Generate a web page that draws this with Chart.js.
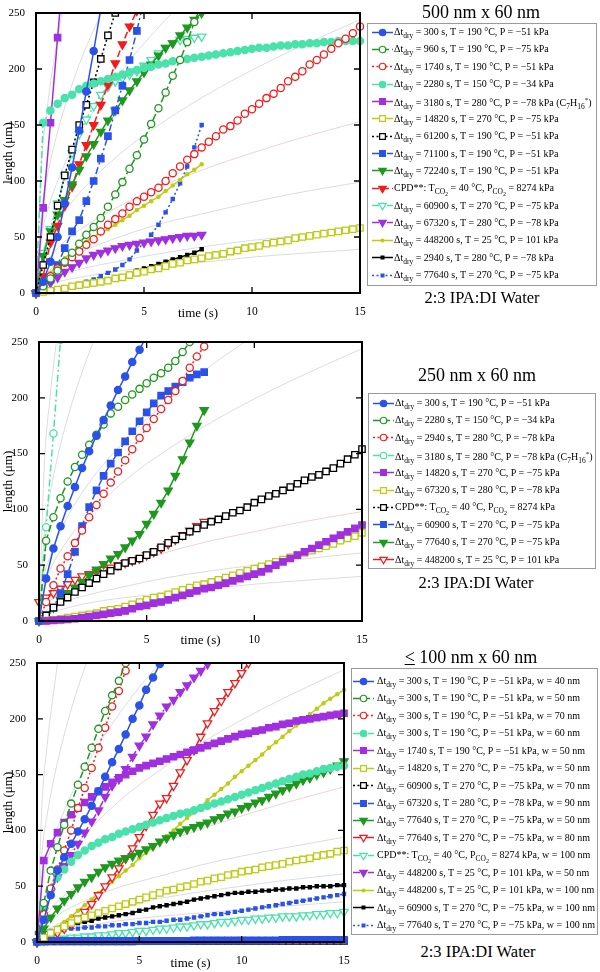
<!DOCTYPE html>
<html>
<head>
<meta charset="utf-8">
<script src="https://cdn.jsdelivr.net/npm/chart.js@4.4.1/dist/chart.umd.min.js"></script>
<style>
  html, body { margin: 0; padding: 0; background: #fff; }
  body { position: relative; width: 600px; height: 972px; overflow: hidden;
         font-family: 'Liberation Serif', 'Times New Roman', serif; color: #000; }
  canvas.plot { position: absolute; left: 0; }
  .head { position: absolute; width: 240px; text-align: center; white-space: nowrap; line-height: 20px; }
  .legend { position: absolute; border: 1px solid #9a9a9a; background: #fff; box-sizing: border-box; }
  .legend .row { position: absolute; height: 17px; line-height: 17px; white-space: nowrap; font-size: 10px; }
  .legend canvas { position: absolute; }
  sub { font-size: 7.5px; vertical-align: -3px; line-height: 0; }
  sub sub { font-size: 6px; vertical-align: -2px; }
</style>
</head>
<body>
<script>
// frame times (s), shared by all measured series
const time = [0, 0.33, 0.67, 1, 1.33, 1.67, 2, 2.33, 2.67, 3, 3.33, 3.67, 4, 4.33, 4.67, 5, 5.33, 5.67, 6, 6.33,
  6.67, 7, 7.33, 7.67, 8, 8.33, 8.67, 9, 9.33, 9.67, 10, 10.33, 10.67, 11, 11.33, 11.67, 12, 12.33, 12.67, 13,
  13.33, 13.67, 14, 14.33, 14.67, 15];
// times for the faint guide curves
const guideTime = [0, 0.25, 0.5, 1, 2, 4, 6, 8, 10, 12, 15];

// ─── Panel 1: 500 nm x 60 nm ────────────────────────────────────────────────
const p1_300 = [0, 10, 28, 50, 80, 112, 145, 180, 216, 254];
const p1_960 = [0, 6, 13, 20, 28, 36, 44, 52, 59, 67, 77, 88, 99, 111, 123, 137, 151, 165, 179, 194, 208, 224, 242, 258];
const p1_1740 = [0, 8, 15, 22, 27, 32, 37, 43, 48, 55, 61, 66, 71, 77, 82, 86, 90, 94, 100, 107,
  113, 119, 124, 130, 135, 140, 146, 149, 154, 160, 164, 169, 174, 178, 183, 189, 193, 198, 204, 208,
  213, 218, 223, 227, 232, 238];
const p1_2280 = [0, 152, 163, 169, 174, 177, 182, 185, 187, 189, 191, 193, 195, 197, 199, 201, 202, 204, 205, 207,
  208, 209, 210, 211, 212, 213, 214, 215, 216, 217, 218, 219, 219, 220, 221, 221, 222, 222, 223, 223,
  224, 224, 225, 225, 225, 225];
const p1_3180 = [0, 76, 152, 228, 304];
const p1_14820 = [0, 1, 2, 3, 4, 6, 7, 8, 9, 10, 11, 13, 14, 16, 18, 19, 21, 22, 24, 26,
  27, 29, 30, 31, 33, 34, 35, 37, 38, 40, 41, 42, 44, 45, 46, 47, 49, 50, 51, 52,
  53, 54, 55, 56, 57, 58];
const p1_61200 = [0, 25, 50, 78, 105, 128, 150, 168, 188, 209, 230, 250];
const p1_71100 = [0, 5, 12, 25, 40, 55, 65, 82, 100, 120, 140, 163, 185, 208, 234, 262];
const p1_72240 = [0, 33, 55, 70, 83, 97, 110, 122, 133, 144, 154, 163, 172, 181, 189, 197, 204, 212, 219, 223, 230, 237, 244, 250];
const p1_cpd = [0, 15, 45, 60, 78, 95, 115, 132, 150, 168, 186, 205, 222, 238, 252];
const p1_60900 = [0, 36, 57, 80, 105, 125, 142, 155, 167, 177, 184, 189, 192, 195, 198, 203, 208, 214, 219, 223, 226, 227, 228, 229];
const p1_67320 = [0, 4, 9, 14, 19, 23, 27, 31, 34, 36, 38, 40, 42, 43, 44, 45, 46, 47, 48, 49, 50, 51, 51, 52];
const p1_448200 = [0, 10, 18, 25, 31, 37, 42, 46, 50, 54, 57, 61, 65, 69, 74, 78, 82, 86, 91, 96, 101, 106, 110, 115];
const p1_2940 = [0, 1, 2, 3, 4, 5, 6, 7, 8, 10, 11, 13, 15, 17, 20, 22, 24, 26, 28, 30, 32, 34, 36, 39];
const p1_77640 = [0, 1, 2, 3, 4, 6, 8, 10, 12, 15, 18, 21, 25, 30, 38, 45, 52, 61, 72, 84, 98, 113, 130, 150];
const p1_guides = [
  [0, 114, 162, 228, 323],
  [0, 72, 102, 144, 204, 288],
  [0, 50, 71, 100, 141, 199, 244, 282],
  [0, 31, 45, 63, 89, 126, 154, 178, 199, 218, 244],
  [0, 20, 28, 40, 56, 79, 97, 112, 125, 137, 153],
  [0, 13, 18, 26, 36, 51, 63, 72, 81, 89, 99],
  [0, 7, 10, 15, 21, 29, 36, 42, 47, 51, 57],
  [0, 5, 7, 10, 14, 20, 25, 28, 32, 35, 39]
];
const DT = 'Δt<sub>dry</sub> = ';
const CPD = 'CPD**: T<sub>CO<sub>2</sub></sub> = 40 °C, P<sub>CO<sub>2</sub></sub> = 8274 kPa';
const p1_labels = [
  DT + '300 s, T = 190 °C, P = −51 kPa',
  DT + '960 s, T = 190 °C, P = −75 kPa',
  DT + '1740 s, T = 190 °C, P = −51 kPa',
  DT + '2280 s, T = 150 °C, P = −34 kPa',
  DT + '3180 s, T = 280 °C, P = −78 kPa (C<sub>7</sub>H<sub>16</sub><sup style="font-size:7px">*</sup>)',
  DT + '14820 s, T = 270 °C, P = −75 kPa',
  DT + '61200 s, T = 190 °C, P = −51 kPa',
  DT + '71100 s, T = 190 °C, P = −51 kPa',
  DT + '72240 s, T = 190 °C, P = −51 kPa',
  CPD,
  DT + '60900 s, T = 270 °C, P = −75 kPa',
  DT + '67320 s, T = 280 °C, P = −78 kPa',
  DT + '448200 s, T = 25 °C, P = 101 kPa',
  DT + '2940 s, T = 280 °C, P = −78 kPa',
  DT + '77640 s, T = 270 °C, P = −75 kPa'
];

// ─── Panel 2: 250 nm x 60 nm ────────────────────────────────────────────────
const p2_300 = [0, 38, 65, 85, 103, 120, 137, 152, 166, 180, 193, 207, 219, 232, 243, 256];
const p2_2280 = [0, 72, 93, 110, 125, 138, 149, 158, 167, 176, 186, 192, 198, 203, 208, 213, 218, 222, 227, 233, 241, 250];
const p2_2940 = [0, 17, 32, 47, 58, 70, 81, 93, 104, 114, 124, 134, 144, 154, 164, 173, 181, 190, 198, 206, 215, 227, 237, 246, 255];
const p2_3180 = [0, 84, 168, 252];
const p2_14820 = [0, 0, 0.5, 1, 1.5, 2, 3, 4, 5, 6, 7, 8, 9, 11, 13, 14, 16, 17, 19, 21,
  23, 25, 27, 29, 30, 32, 34, 36, 38, 40, 42, 44, 47, 50, 53, 56, 59, 62, 65, 68,
  71, 74, 77, 80, 83, 86];
const p2_67320 = [0, 0.5, 1, 2, 3, 4, 5, 6, 7, 9, 10, 11, 13, 15, 17, 19, 21, 22, 24, 26,
  28, 30, 32, 33, 35, 37, 39, 41, 43, 45, 47, 49, 51, 53, 55, 57, 59, 61, 63, 65,
  67, 69, 72, 74, 76, 79];
const p2_cpd = [0, 5, 12, 17, 21, 26, 30, 34, 38, 42, 45, 49, 52, 54, 56, 59, 62, 66, 70, 73,
  76, 80, 83, 86, 89, 91, 94, 97, 99, 102, 106, 109, 112, 114, 117, 120, 123, 126, 129, 131,
  134, 137, 141, 145, 149, 154];
const p2_60900 = [0, 5, 12, 25, 42, 62, 85, 102, 117, 130, 141, 151, 161, 170, 179, 187, 195, 202, 206, 210, 214, 218, 221, 223];
const p2_77640 = [0, 5, 12, 19, 25, 30, 35, 41, 46, 51, 56, 60, 66, 72, 78, 87, 96, 106, 117, 130, 145, 160, 175, 189];
const p2_448200 = [17, 21, 25, 29, 33, 37, 40, 42, 44, 46, 48, 50, 52, 54, 56, 59, 62, 65, 69, 73, 77, 81, 85, 89];
const p2_guides = [
  [0, 140, 198, 280],
  [0, 79, 112, 158, 223, 316],
  [0, 41, 57, 81, 115, 162, 198, 229, 256],
  [0, 31, 45, 63, 89, 126, 154, 178, 199, 218, 244],
  [0, 13, 18, 25, 36, 51, 62, 72, 80, 88, 98],
  [0, 8, 11, 16, 22, 31, 39, 45, 50, 55, 61],
  [0, 5, 7, 10, 15, 21, 25, 29, 33, 36, 40]
];
const p2_labels = [
  DT + '300 s, T = 190 °C, P = −51 kPa',
  DT + '2280 s, T = 150 °C, P = −34 kPa',
  DT + '2940 s, T = 280 °C, P = −78 kPa',
  DT + '3180 s, T = 280 °C, P = −78 kPa (C<sub>7</sub>H<sub>16</sub><sup style="font-size:7px">*</sup>)',
  DT + '14820 s, T = 270 °C, P = −75 kPa',
  DT + '67320 s, T = 280 °C, P = −78 kPa',
  CPD,
  DT + '60900 s, T = 270 °C, P = −75 kPa',
  DT + '77640 s, T = 270 °C, P = −75 kPa',
  DT + '448200 s, T = 25 °C, P = 101 kPa'
];

// ─── Panel 3: <= 100 nm x 60 nm ─────────────────────────────────────────────
const p3_w40 = [0, 20, 42, 64, 76, 88, 99, 110, 122, 135, 148, 161, 173, 186, 200, 212, 226, 237, 249, 260];
const p3_w50 = [0, 35, 64, 85, 105, 124, 141, 157, 174, 191, 207, 221, 234, 250];
const p3_w70 = [0, 25, 48, 65, 82, 100, 120, 138, 156, 174, 192, 211, 225, 243, 258];
const p3_w60 = [0, 30, 47, 58, 65, 72, 78, 82, 86, 89, 92, 94, 97, 99, 101, 103, 105, 107, 109, 111,
  113, 115, 116, 118, 120, 122, 124, 126, 128, 130, 132, 134, 136, 138, 140, 142, 144, 146, 148, 150,
  151, 153, 155, 156, 157, 158];
const p3_1740 = [0, 73, 88, 98, 107, 114, 120, 125, 130, 135, 139, 143, 147, 150, 153, 156, 158, 160, 162, 164,
  166, 168, 170, 172, 174, 176, 178, 180, 182, 184, 186, 187, 189, 190, 192, 193, 195, 196, 198, 199,
  200, 201, 202, 203, 204, 205];
const p3_14820 = [0, 4, 8, 11, 14, 17, 20, 22, 24, 26, 28, 30, 32, 34, 36, 38, 40, 42, 44, 46,
  47, 49, 50, 52, 54, 55, 57, 58, 60, 61, 63, 64, 65, 67, 68, 69, 70, 72, 73, 74,
  75, 77, 78, 79, 81, 82];
const p3_60900w70 = [0, 0.5, 0.5, 0.5, 0.5, 0.5, 0.5, 0.5, 0.5, 0.5, 0.5, 0.5, 0.5, 0.5, 0.5, 1, 1, 1, 1, 1,
  1, 1, 1, 1, 1, 1, 1, 1, 1, 1, 1, 1, 1, 1, 1, 1, 1, 1, 1, 1,
  1, 1, 1, 1, 1, 1];
const p3_67320 = [0, 0.5, 1, 1, 1, 1, 1, 1, 1, 1, 1, 1, 1, 1, 1, 1, 1, 1, 1, 1,
  1, 1, 1, 1.5, 1.5, 1.5, 1.5, 1.5, 1.5, 1.5, 1.5, 1.5, 1.5, 1.5, 1.5, 1.5, 2, 2, 2, 2,
  2, 2, 2, 2, 2, 2];
const p3_77640w50 = [0, 12, 22, 30, 37, 43, 49, 54, 58, 63, 67, 70, 73, 75, 77, 80, 83, 86, 90, 93,
  96, 99, 101, 103, 105, 107, 110, 112, 115, 117, 120, 122, 125, 127, 130, 133, 136, 139, 142, 145,
  147, 150, 152, 155, 158, 162];
const p3_77640w80 = [0, 2, 4, 8, 12, 16, 21, 27, 34, 42, 50, 58, 66, 75, 84, 94, 104, 114, 124, 129,
  140, 152, 163, 172, 184, 196, 207, 216, 224, 232, 241, 250, 260];
const p3_cpd = [0, 1, 2, 2, 3, 4, 4, 5, 5, 6, 6, 7, 8, 8, 9, 10, 10, 11, 12, 12,
  13, 14, 14, 15, 16, 16, 17, 18, 18, 19, 20, 20, 21, 21, 22, 22, 23, 23, 23, 24,
  24, 25, 25, 26, 26, 27];
const p3_448200w50 = [0, 28, 45, 58, 68, 78, 88, 98, 108, 118, 130, 140, 146, 155, 166, 176, 184, 195, 203, 211,
  217, 224, 230, 237, 243, 249, 255];
const p3_448200w100 = [0, 4, 8, 13, 18, 23, 28, 33, 38, 44, 49, 54, 59, 64, 69, 75, 80, 85, 90, 95,
  100, 106, 111, 116, 121, 127, 132, 137, 142, 148, 153, 158, 163, 168, 174, 179, 184, 189, 194, 199,
  204, 209, 214, 218, 222, 226];
const p3_60900w100 = [0, 4, 8, 11, 13, 15, 17, 18, 19, 21, 22, 23, 24, 25, 26, 28, 29, 31, 32, 33,
  34, 35, 36, 38, 39, 40, 41, 42, 43, 44, 44, 45, 45, 46, 46, 47, 47, 48, 48, 49,
  49, 50, 50, 50, 51, 51];
const p3_77640w100 = [8, 9, 10, 11, 11, 12, 12, 13, 13, 14, 14, 15, 15, 16, 16, 17, 17, 18, 18, 19,
  20, 20, 21, 22, 23, 24, 25, 25, 26, 27, 28, 29, 30, 31, 32, 33, 34, 35, 36, 37,
  38, 39, 40, 41, 42, 43];
const p3_guides = [
  [0, 125, 177, 250],
  [0, 81, 114, 161, 228, 322],
  [0, 51, 72, 102, 144, 204, 250, 288],
  [0, 31, 45, 63, 89, 126, 154, 178, 199, 218, 244],
  [0, 18, 25, 36, 51, 72, 88, 101, 113, 124, 139],
  [0, 12, 17, 24, 34, 49, 59, 69, 77, 84, 94],
  [0, 8, 11, 16, 22, 31, 39, 45, 50, 55, 61],
  [0, 5, 7, 9, 13, 19, 23, 26, 29, 32, 36]
];
const p3_labels = [
  DT + '300 s, T = 190 °C, P = −51 kPa, w = 40 nm',
  DT + '300 s, T = 190 °C, P = −51 kPa, w = 50 nm',
  DT + '300 s, T = 190 °C, P = −51 kPa, w = 70 nm',
  DT + '300 s, T = 190 °C, P = −51 kPa, w = 60 nm',
  DT + '1740 s, T = 190 °C, P = −51 kPa, w = 50 nm',
  DT + '14820 s, T = 270 °C, P = −75 kPa, w = 50 nm',
  DT + '60900 s, T = 270 °C, P = −75 kPa, w = 70 nm',
  DT + '67320 s, T = 280 °C, P = −78 kPa, w = 90 nm',
  DT + '77640 s, T = 270 °C, P = −75 kPa, w = 50 nm',
  DT + '77640 s, T = 270 °C, P = −75 kPa, w = 80 nm',
  CPD + ', w = 100 nm',
  DT + '448200 s, T = 25 °C, P = 101 kPa, w = 50 nm',
  DT + '448200 s, T = 25 °C, P = 101 kPa, w = 100 nm',
  DT + '60900 s, T = 270 °C, P = −75 kPa, w = 100 nm',
  DT + '77640 s, T = 270 °C, P = −75 kPa, w = 100 nm'
];

// ─── Styles ─────────────────────────────────────────────────────────────────
const BLUE = '#2a52e8', GREEN = '#1e981e', RED = '#f21c1c', AQUA = '#48e2aa',
      PURPLE = '#a02fe0', YG = '#bccc12', BLACK = '#000000';
const SOLID = [], DOT = [2, 2.5], DASH = [7, 3], DASHDOT = [7, 3, 2, 3];
const GUIDE_COLORS = ['#dcdcdc', '#dcdcdc', '#d7dcef', '#dcdcdc', '#f2d0d8', '#dcdcdc', '#d7dcef', '#dcdcdc'];

// s(values, color, dash, marker, open, radius)
const S = (v, c, d, m, o, r) => ({ v, c, d, m, o, r });
const CIR = 3.6, SQ = 4.5, TRI = 4.8, SMALL = 2.2;

const panels = [
  {
    L: 36, R: 360, T: 13, B: 293, xtPad: 4,
    title: { text: '500 nm x 60 nm', cx: 481, cy: 12 },
    sub: { cx: 482, cy: 298 },
    legend: { x: 367, y: 23, w: 230, h: 263, first: 31, step: 17.36, sx: 372, tx: 394 },
    labels: p1_labels, guides: p1_guides,
    series: [
      S(p1_300, BLUE, SOLID, 'circle', false, CIR),
      S(p1_960, GREEN, DASH, 'circle', true, CIR),
      S(p1_1740, RED, DOT, 'circle', true, CIR),
      S(p1_2280, AQUA, DASHDOT, 'circle', false, CIR),
      S(p1_3180, PURPLE, SOLID, 'rect', false, SQ),
      S(p1_14820, YG, SOLID, 'rect', true, SQ),
      S(p1_61200, BLACK, DOT, 'rect', true, SQ),
      S(p1_71100, BLUE, DASHDOT, 'rect', false, SQ),
      S(p1_72240, GREEN, SOLID, 'triangle', false, TRI),
      S(p1_cpd, RED, DASH, 'triangle', false, TRI),
      S(p1_60900, AQUA, DASHDOT, 'triangle', true, TRI),
      S(p1_67320, PURPLE, DASHDOT, 'triangle', false, TRI),
      S(p1_448200, YG, SOLID, 'circle', false, 1.6),
      S(p1_2940, BLACK, SOLID, 'rect', false, SMALL),
      S(p1_77640, BLUE, DOT, 'rect', false, SMALL)
    ]
  },
  {
    L: 39, R: 362, T: 342, B: 621, xtPad: 5,
    title: { text: '250 nm x 60 nm', cx: 477, cy: 375 },
    sub: { cx: 476, cy: 583 },
    legend: { x: 368, y: 393, w: 228, h: 176, first: 402, step: 17.4, sx: 373, tx: 395 },
    labels: p2_labels, guides: p2_guides,
    series: [
      S(p2_300, BLUE, SOLID, 'circle', false, CIR),
      S(p2_2280, GREEN, DASH, 'circle', true, CIR),
      S(p2_2940, RED, DOT, 'circle', true, CIR),
      S(p2_3180, AQUA, DASHDOT, 'circle', true, CIR),
      S(p2_14820, PURPLE, SOLID, 'rect', false, SQ),
      S(p2_67320, YG, SOLID, 'rect', true, SQ),
      S(p2_cpd, BLACK, DOT, 'rect', true, SQ),
      S(p2_60900, BLUE, DASHDOT, 'rect', false, SQ),
      S(p2_77640, GREEN, SOLID, 'triangle', false, TRI),
      S(p2_448200, RED, SOLID, 'triangle', true, TRI)
    ]
  },
  {
    L: 37, R: 344, T: 663, B: 942, xtPad: 3,
    title: { text: '<u>&lt;</u> 100 nm x 60 nm', cx: 471, cy: 657 },
    sub: { cx: 478, cy: 952 },
    legend: { x: 351, y: 668, w: 247, h: 267, first: 680, step: 17.43, sx: 353, tx: 377 },
    labels: p3_labels, guides: p3_guides,
    series: [
      S(p3_w40, BLUE, SOLID, 'circle', false, CIR),
      S(p3_w50, GREEN, DASH, 'circle', true, CIR),
      S(p3_w70, RED, DOT, 'circle', true, CIR),
      S(p3_w60, AQUA, DASHDOT, 'circle', false, CIR),
      S(p3_1740, PURPLE, SOLID, 'rect', false, SQ),
      S(p3_14820, YG, SOLID, 'rect', true, SQ),
      S(p3_60900w70, BLACK, DOT, 'rect', true, SQ),
      S(p3_67320, BLUE, DASHDOT, 'rect', false, SQ),
      S(p3_77640w50, GREEN, SOLID, 'triangle', false, TRI),
      S(p3_77640w80, RED, SOLID, 'triangle', true, TRI),
      S(p3_cpd, AQUA, DASHDOT, 'triangle', true, TRI),
      S(p3_448200w50, PURPLE, DASHDOT, 'triangle', false, TRI),
      S(p3_448200w100, YG, SOLID, 'circle', false, 1.6),
      S(p3_60900w100, BLACK, SOLID, 'rect', false, SMALL),
      S(p3_77640w100, BLUE, DOT, 'rect', false, SMALL)
    ]
  }
];

Chart.defaults.font.family = "'Liberation Serif', 'Times New Roman', serif";
Chart.defaults.color = '#000';

// black frame with inward ticks on all four sides
const frameTicks = {
  id: 'frameTicks',
  afterDatasetsDraw(chart) {
    const { ctx, chartArea: a, scales: { x, y } } = chart;
    ctx.save();
    ctx.setLineDash([]);
    ctx.strokeStyle = '#000';
    ctx.lineWidth = 2;
    ctx.strokeRect(a.left, a.top, a.right - a.left, a.bottom - a.top);
    ctx.lineWidth = 1.3;
    ctx.beginPath();
    x.ticks.forEach(t => {
      const px = x.getPixelForValue(t.value);
      ctx.moveTo(px, a.bottom); ctx.lineTo(px, a.bottom - 6);
      ctx.moveTo(px, a.top); ctx.lineTo(px, a.top + 6);
    });
    y.ticks.forEach(t => {
      const py = y.getPixelForValue(t.value);
      ctx.moveTo(a.left, py); ctx.lineTo(a.left + 6, py);
      ctx.moveTo(a.right, py); ctx.lineTo(a.right - 6, py);
    });
    ctx.stroke();
    ctx.restore();
  }
};

function dataset(s, order) {
  return {
    data: s.v.map((v, i) => ({ x: time[i], y: v })),
    borderColor: s.c,
    borderWidth: 1.5,
    borderDash: s.d,
    pointStyle: s.m,
    pointRotation: s.m === 'triangle' ? 180 : 0,
    pointRadius: s.r,
    pointBorderWidth: 1.3,
    pointBorderColor: s.c,
    pointBackgroundColor: s.o ? '#fff' : s.c,
    tension: 0,
    order: order,
    clip: { left: 6, right: 6, top: 0, bottom: 6 }
  };
}

function guideSet(vals, i) {
  return {
    data: vals.map((v, k) => ({ x: guideTime[k], y: v })),
    borderColor: GUIDE_COLORS[i % GUIDE_COLORS.length],
    borderWidth: 1,
    pointRadius: 0,
    cubicInterpolationMode: 'monotone',
    order: 5,
    clip: 0
  };
}

function drawSample(cv, s) {
  const ctx = cv.getContext('2d');
  const w = cv.width, h = cv.height;
  ctx.strokeStyle = s.c;
  ctx.lineWidth = 1.5;
  ctx.setLineDash(s.d);
  ctx.beginPath();
  ctx.moveTo(0, h / 2); ctx.lineTo(w, h / 2);
  ctx.stroke();
  ctx.setLineDash([]);
  ctx.fillStyle = s.o ? '#fff' : s.c;
  ctx.lineWidth = 1.2;
  const opts = { pointStyle: s.m, radius: s.r * 0.9, rotation: s.m === 'triangle' ? 180 : 0, borderWidth: 1.2 };
  if (Chart.helpers && Chart.helpers.drawPoint) {
    Chart.helpers.drawPoint(ctx, opts, w / 2, h / 2);
  } else {
    ctx.beginPath(); ctx.arc(w / 2, h / 2, s.r, 0, Math.PI * 2); ctx.fill(); ctx.stroke();
  }
}

function addHead(html, cx, cy, size) {
  const d = document.createElement('div');
  d.className = 'head';
  d.style.left = (cx - 120) + 'px';
  d.style.top = (cy - 10) + 'px';
  d.style.fontSize = size + 'px';
  d.innerHTML = html;
  document.body.appendChild(d);
}

panels.forEach(p => {
  const W = p.R + 12, H = 13 + (p.B - p.T) + 32;
  const cv = document.createElement('canvas');
  cv.className = 'plot';
  cv.width = W; cv.height = H;
  cv.style.top = (p.T - 13) + 'px';
  document.body.appendChild(cv);

  const sets = p.series.map(s => dataset(s, s.v === p3_60900w70 ? 1 : 0));
  p.guides.forEach((g, i) => sets.push(guideSet(g, i)));

  new Chart(cv, {
    type: 'line',
    data: { datasets: sets },
    options: {
      responsive: false,
      animation: false,
      devicePixelRatio: 1,
      layout: { padding: { top: 13, left: 0, right: W - p.R, bottom: 0 } },
      plugins: { legend: { display: false }, tooltip: { enabled: false } },
      scales: {
        x: {
          type: 'linear', min: 0, max: 15,
          ticks: { stepSize: 5, maxRotation: 0, padding: 4, font: { size: 11.5 }, color: '#000' },
          grid: { display: false }, border: { display: false },
          title: { display: true, text: 'time (s)', font: { size: 13 }, padding: { top: 0, bottom: p.xtPad } },
          afterFit: s => { s.height = H - 13 - (p.B - p.T); }
        },
        y: {
          type: 'linear', min: 0, max: 250,
          ticks: { stepSize: 50, padding: 3, font: { size: 11 }, color: '#000' },
          grid: { display: false }, border: { display: false },
          title: { display: true, text: 'length (μm)', font: { size: 13 }, padding: { top: 1, bottom: 0 } },
          afterFit: s => { s.width = p.L; }
        }
      }
    },
    plugins: [frameTicks]
  });

  addHead(p.title.text, p.title.cx, p.title.cy, 18);
  addHead('2:3 IPA:DI Water', p.sub.cx, p.sub.cy, 16.5);

  const lg = p.legend;
  const box = document.createElement('div');
  box.className = 'legend';
  Object.assign(box.style, { left: lg.x + 'px', top: lg.y + 'px', width: lg.w + 'px', height: lg.h + 'px' });
  p.series.forEach((s, i) => {
    const cy = lg.first + i * lg.step - lg.y;
    const sc = document.createElement('canvas');
    sc.width = 21; sc.height = 13;
    sc.style.left = (lg.sx - lg.x - 1) + 'px';
    sc.style.top = (cy - 6.5) + 'px';
    drawSample(sc, s);
    box.appendChild(sc);
    const row = document.createElement('div');
    row.className = 'row';
    row.style.left = (lg.tx - lg.x - 1) + 'px';
    row.style.top = (cy - 9) + 'px';
    row.innerHTML = p.labels[i];
    box.appendChild(row);
  });
  document.body.appendChild(box);
});
</script>
</body>
</html>
